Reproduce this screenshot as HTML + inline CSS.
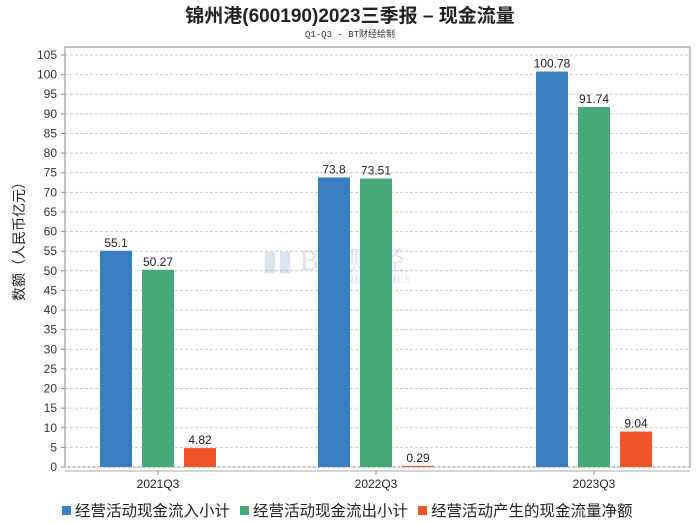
<!DOCTYPE html>
<html><head><meta charset="utf-8"><style>
body{margin:0;background:#fff;}
svg{display:block;font-family:"Liberation Sans","Noto Sans CJK SC",sans-serif;}
</style></head><body>
<svg id="chart" width="700" height="524" viewBox="0 0 700 524">
<text x="350" y="22" text-anchor="middle" font-size="19" font-weight="bold" fill="#222">锦州港(600190)2023三季报 – 现金流量</text>
<text x="350" y="37" text-anchor="middle" font-size="9" fill="#333" font-family="Liberation Mono, Noto Sans CJK SC, monospace">Q1-Q3 - BT财经绘制</text>
<text transform="translate(24,238) rotate(-90)" text-anchor="middle" font-size="14" fill="#222">数额（人民币亿元）</text>
<g id="grid"></g>
<g id="watermark" opacity="0.18">
<text x="262" y="270" font-size="28" fill="#3a6ea5" font-family="Liberation Serif, Noto Serif CJK SC, serif">▮▮ B T 财经</text>
<text x="318" y="283" font-size="12" fill="#3a6ea5" font-family="Liberation Serif, serif">BUSINESSTIMES</text>
</g>
<g id="bars"></g>
<g id="legend">
<rect x="62" y="506" width="9" height="9" fill="#3a7fc1"/>
<text x="75" y="516" font-size="15.5" fill="#222">经营活动现金流入小计</text>
<rect x="240" y="506" width="9" height="9" fill="#45a877"/>
<text x="253" y="516" font-size="15.5" fill="#222">经营活动现金流出小计</text>
<rect x="418" y="506" width="9" height="9" fill="#ef5428"/>
<text x="431" y="516" font-size="15.5" fill="#222">经营活动产生的现金流量净额</text>
</g>
</svg>
<script>
const categories = ["2021Q3","2022Q3","2023Q3"];
const inflow = [55.1, 73.8, 100.78];
const outflow = [50.27, 73.51, 91.74];
const netflow = [4.82, 0.29, 9.04];
const yTicks = [0,5,10,15,20,25,30,35,40,45,50,55,60,65,70,75,80,85,90,95,100,105];
const seriesNames = ["inflow","outflow","net"];
const colors = ["#3a7fc1","#45a877","#ef5428"];

const NS = "http://www.w3.org/2000/svg";
const plotL = 65, plotR = 690, plotT = 47, y0 = 467, yMax = 105, yTop = 55;
function y(v){ return y0 - (v / yMax) * (y0 - yTop); }
function bandCenter(i){ return 158 + i * 218; }
function mk(tag, attrs, parent){ const e = document.createElementNS(NS, tag); for (const k in attrs) e.setAttribute(k, attrs[k]); parent.appendChild(e); return e; }

const grid = document.getElementById('grid');
mk('rect', {x: plotL, y: plotT, width: plotR - plotL, height: y0 - plotT, fill: '#fff', stroke: '#888', 'stroke-width': 1}, grid);
yTicks.forEach(t => {
  const yy = y(t);
  const g = mk('line', {x1: plotL, x2: plotR, y1: yy, y2: yy, stroke: '#ccc', 'stroke-dasharray': '3,2', 'stroke-width': 1}, grid);
  
  
  mk('line', {x1: plotL - 4, x2: plotL, y1: yy, y2: yy, stroke: '#888'}, grid);
  const tx = mk('text', {x: plotL - 8, y: yy + 4, 'text-anchor': 'end', 'font-size': 12, fill: '#333'}, grid);
  tx.textContent = t;
  
  
});
mk('line', {x1: plotL, x2: plotR, y1: y0 + 4, y2: y0 + 4, stroke: '#aaa'}, grid);
categories.forEach((c, i) => {
  const cx = bandCenter(i);
  mk('line', {x1: cx, x2: cx, y1: y0 + 4, y2: y0 + 8, stroke: '#888'}, grid);
  const t = mk('text', {x: cx, y: y0 + 21, 'text-anchor': 'middle', 'font-size': 12, fill: '#222'}, grid);
  t.textContent = c;
  
  
});

const bars = document.getElementById('bars');
const series = [inflow, outflow, netflow];
const bw = 32, step = 42;
series.forEach((vals, s) => {
  vals.forEach((v, i) => {
    const x = bandCenter(i) - 58 + s * step;
    const r = mk('rect', {x: x, y: y(v), width: bw, height: y0 - y(v), fill: colors[s]}, bars);
    
    
    const t = mk('text', {x: x + bw / 2, y: y(v) - 4, 'text-anchor': 'middle', 'font-size': 12, fill: '#222'}, bars);
    t.textContent = v;
    
    
  });
});
</script>
</body></html>
